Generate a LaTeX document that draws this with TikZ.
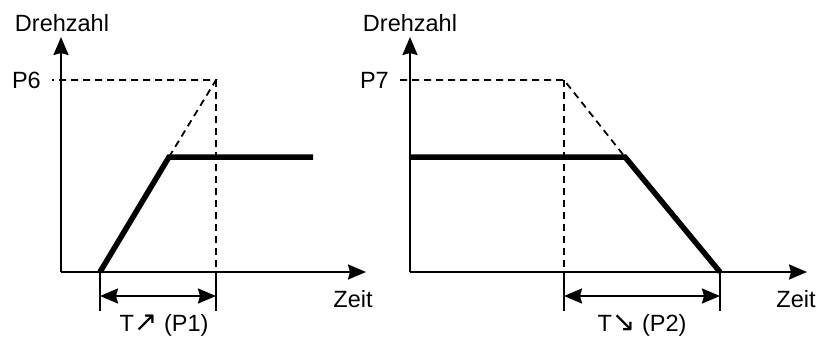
\documentclass[tikz,border=0pt]{standalone}
\usepackage{fontspec}
\setmainfont{Liberation Sans}
\newfontfamily\arrowfont[Scale=1.2]{DejaVu Sans}
\usetikzlibrary{arrows.meta}
\begin{document}
\begin{tikzpicture}[x=1pt,y=-1pt,
  tip/.tip={Stealth[length=18pt,width=15pt,inset=2pt]},
  axis/.style={line width=2.2pt,-tip},
  curve/.style={line width=5.5pt,line join=miter},
  guide/.style={line width=1.8pt,dash pattern=on 7pt off 5pt},
  tickline/.style={line width=2.2pt},
  dim/.style={line width=2.2pt,tip-tip},
  lbl/.style={font=\fontsize{23.5}{28}\selectfont,inner sep=0pt}]
\useasboundingbox (0,0) rectangle (817,338);

% ---------- acceleration ramp ----------
\coordinate (o1) at (61,272);
\coordinate (y1) at (61,37);
\coordinate (x1) at (366,272);
\coordinate (s1) at (100,272);
\coordinate (k1) at (169,157);
\coordinate (e1) at (313,157);
\coordinate (p1) at (216,80);
\coordinate (t1) at (52,80);
\coordinate (f1) at (216,272);
\coordinate (a1) at (100,311);
\coordinate (b1) at (216,311);
\coordinate (c1) at (100,296);
\coordinate (d1) at (216,296);

\draw[guide] (k1) -- (p1) -- (t1);
\draw[guide] (p1) -- (f1);
\draw[axis] (o1) -- (y1);
\draw[axis] (o1) -- (x1);
\draw[curve] (s1) -- (k1) -- (e1);
\draw[tickline] (s1) -- (a1);
\draw[tickline] (f1) -- (b1);
\draw[dim] (c1) -- (d1);

\node[lbl] (dz1) at (62,23) {Drehzahl};
\node[lbl,anchor=east] (pv6) at (41,80) {P6};
\node[lbl] (zt1) at (353,299) {Zeit};
\node[lbl] (tl1) at (164,325) {T{\arrowfont ↗} (P1)};

% ---------- deceleration ramp ----------
\coordinate (o2) at (410,272);
\coordinate (y2) at (410,37);
\coordinate (x2) at (807,272);
\coordinate (s2) at (410,157);
\coordinate (k2) at (625,157);
\coordinate (e2) at (720,272);
\coordinate (p2) at (564,80);
\coordinate (t2) at (400,80);
\coordinate (f2) at (564,272);
\coordinate (a2) at (564,311);
\coordinate (b2) at (720,311);
\coordinate (c2) at (564,296);
\coordinate (d2) at (720,296);

\draw[guide] (t2) -- (p2) -- (k2);
\draw[guide] (p2) -- (f2);
\draw[axis] (o2) -- (y2);
\draw[axis] (o2) -- (x2);
\draw[curve] (s2) -- (k2) -- (e2);
\draw[tickline] (f2) -- (a2);
\draw[tickline] (e2) -- (b2);
\draw[dim] (c2) -- (d2);

\node[lbl] (dz2) at (410,23) {Drehzahl};
\node[lbl,anchor=east] (pv7) at (389,80) {P7};
\node[lbl] (zt2) at (796,299) {Zeit};
\node[lbl] (tl2) at (642,325) {T{\arrowfont ↘} (P2)};
\end{tikzpicture}
\end{document}
